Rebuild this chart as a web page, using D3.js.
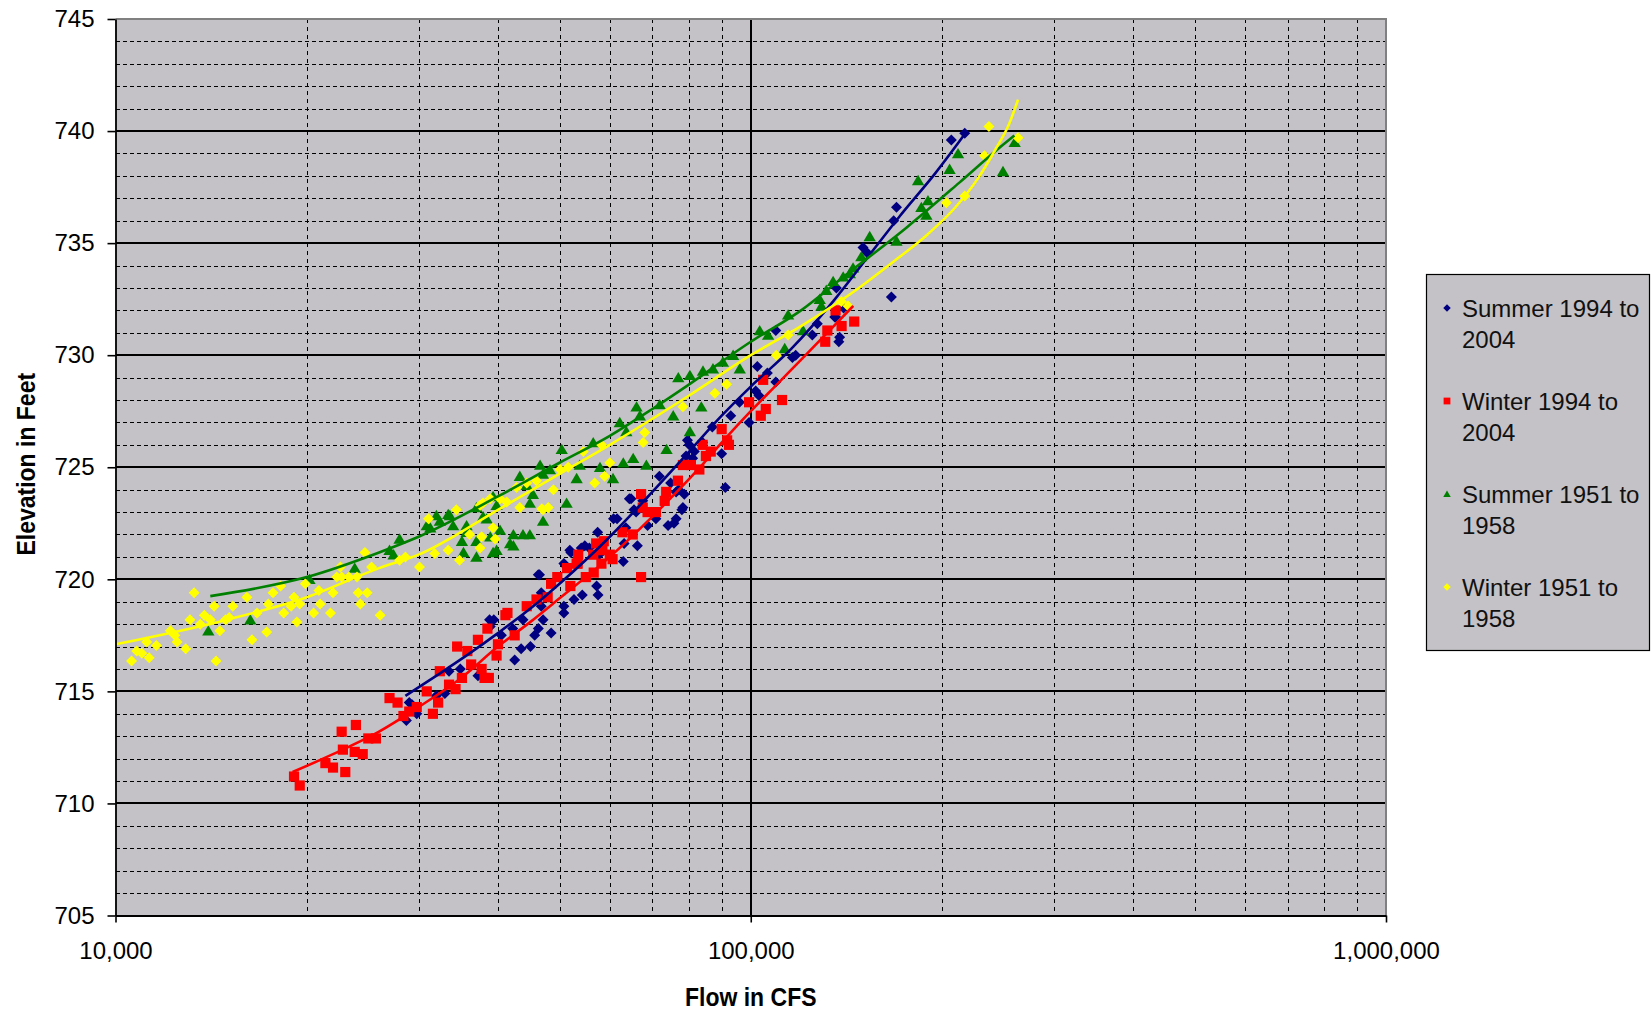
<!DOCTYPE html>
<html>
<head>
<meta charset="utf-8">
<title>Stage vs Flow</title>
<script src="https://d3js.org/d3.v7.min.js"></script>
<style>
  body { margin: 0; background: #fff; }
  text { font-family: "Liberation Sans", Arial, sans-serif; }
</style>
</head>
<body>
<div id="chart"></div>
<script>
// series names, as in the legend
const seriesNames = ["Summer 1994 to|2004", "Winter 1994 to|2004", "Summer 1951 to|1958", "Winter 1951 to|1958"];

// [flow cfs, elevation ft]
const summer9404 = [
  [29000,714.5],[29800,714.0],[28700,713.7],[29300,714.4],[32000,714.8],[33000,714.9],[33500,715.9],[34900,716.0],
  [37200,715.7],[38900,717.9],[39400,718.2],[40500,717.5],[42500,716.4],[43500,716.9],[45000,717.0],[45700,717.5],
  [46300,717.8],[47100,718.2],[46300,720.2],[46800,719.4],[50800,720.7],[50800,718.8],[50800,718.5],[52700,719.1],
  [54300,719.3],[57200,719.7],[57500,719.3],[63000,720.8],
  [51900,721.3],[54800,721.5],[57400,722.1],[60800,722.7],[63200,721.6],[63600,722.3],[64800,723.6],[66000,723.0],
  [67600,723.5],[68800,722.4],[70900,722.7],[71800,724.6],[74100,722.4],[76300,722.7],[76300,723.9],[78200,723.2],
  [78600,723.8],[79500,726.2],[79100,725.5],[81000,725.4],[84000,726.1],[87000,726.8],[90000,725.6],[91200,724.1],
  [93000,727.3],[96000,727.9],[99400,727.0],[101800,728.4],[103000,728.2],[102400,729.5],[106200,729.2],[109500,728.8],
  [116300,729.9],[117700,730.0],[125000,730.9],[127300,731.4],[136000,731.7],[137600,730.6],[140000,732.1],[109500,731.1],
  [57700,721.1],[169600,736.6],[167900,736.0],[150200,734.8],[152100,734.6],[166500,732.6],[136400,733.0],[135600,731.7],
  [138000,730.8],[206900,739.6],[217200,739.9],
  [46500,720.2],[51100,720.6],[52100,721.2],[54100,721.4],[55700,721.4],[61600,722.7],[64400,723.6],[65500,723.1],
  [66300,721.5],[74800,724.3],[77000,724.0],[75700,722.5],[77900,723.1],[80000,726.0],[81500,725.7],[48500,717.6],
  [46800,718.8],[43800,718.2],[38800,718.2],[42200,717.8]
];

const winter9404 = [
  [19100,711.2],[19500,710.8],[21400,711.8],[22000,711.6],[23000,711.4],[22700,713.2],[23900,713.5],[22800,712.4],
  [23800,712.3],[24500,712.2],[25000,712.9],[25700,712.9],[27000,714.7],[27800,714.5],[28400,713.9],[29000,714.1],
  [29800,714.3],[30900,715.0],[31600,714.0],[32200,714.5],[32400,715.9],[33500,715.3],[34300,715.1],[34500,717.0],
  [35100,715.6],[35800,716.8],[37200,717.3],[36300,716.2],[37700,716.0],[38100,715.6],[38700,715.6],[38500,717.8],
  [39800,716.6],[40000,717.1],[41400,718.5],[42500,717.5],[44400,718.8],[46000,719.1],[47900,719.2],[49600,720.1],
  [51400,720.5],[53400,720.7],[55000,720.1],[56600,720.3],[58200,720.7],[60600,720.9],[67200,720.1],[48500,719.8],
  [52000,719.7],[41100,718.4],
  [53200,720.7],[53500,721.1],[56500,721.1],[58400,721.3],[60000,721.1],[57100,721.6],[58700,721.7],[62800,722.1],
  [65200,722.0],[67200,723.8],[67600,723.2],[68800,723.0],[70900,723.0],[73200,723.5],[73600,723.9],[76800,724.4],
  [78200,725.1],[80500,725.1],[83000,724.9],[84000,726.0],[86500,725.7],[85000,725.5],[91800,726.2],[92400,726.0],
  [90000,726.7],[99400,727.9],[103700,727.3],[105600,727.6],[104600,728.9],[112000,728.0],[131000,730.6],[132000,731.1],
  [139000,731.3],[145500,731.5],[136000,732.0]
];

const summer5158 = [
  [14000,717.7],[16300,718.2],[20200,720.0],[23800,720.5],[27400,721.1],[31300,722.3],[32400,722.6],[33400,722.9],
  [34000,722.4],[35700,722.4],[37000,723.2],[37900,722.8],[38900,721.9],[40300,722.2],[39300,723.7],[42300,721.5],
  [43800,722.0],[41800,721.6],[39800,721.3],[37000,721.0],[47100,724.7],[45400,723.8],[47100,722.6],[44900,723.4],
  [43300,724.6],
  [27000,721.3],[32000,722.85],[37000,721.7],[39300,721.2],[42300,722.0],[44900,722.0],[39800,723.3],[44400,724.2],
  [50400,725.8],[51300,723.4],[53200,724.5],[53800,725.1],[56500,726.1],[57900,725.0],[60700,724.5],[63000,725.2],
  [65300,725.4],[66100,727.7],[68500,725.1],[63700,726.6],[62200,727.0],[66900,727.3],[71900,727.8],[73700,725.8],
  [75500,727.3],[76900,729.0],[80200,729.1],[80200,726.6],[83600,727.7],[84100,729.3],[87200,729.4],[90400,729.7],
  [93800,730.0],[96100,729.4],[103300,731.1],[106500,730.9],[113100,730.3],[114500,731.8],[120900,731.1],[128400,732.5],
  [131500,732.9],[46600,725.1],[48300,724.9],[38400,722.7],[35700,722.1],[35100,721.7],[35300,721.2],[33600,722.85],
  [30900,722.4],[28000,721.8],
  [153900,735.3],[169600,735.1],[183400,737.8],[190100,736.9],[185600,736.6],[189000,736.25],[205600,738.3],[212000,739.0],
  [249500,738.2],[260300,739.5],[134800,733.3],[143200,733.65],[144900,733.9],[129200,732.2],[139800,733.5],[149300,734.4]
];

const winter5158 = [
  [10600,716.35],[10800,716.8],[11000,716.7],[11300,716.5],[11200,717.2],[11600,717.05],[12200,717.7],[12400,717.5],
  [12500,717.2],[12900,716.9],[13100,718.2],[13300,719.4],[13600,718.0],[13800,718.4],[14100,718.2],[14300,718.8],
  [14400,716.35],[14600,717.7],[14900,718.2],[15100,718.3],[15300,718.8],[16100,719.2],[16400,717.3],[16700,718.5],
  [17300,717.65],[17400,718.9],[17700,719.4],[18200,719.7],[18400,718.5],[18900,718.8],[19300,718.1],[19500,718.9],
  [19900,719.8],[20500,718.5],[20900,719.5],[21800,718.5],[22000,719.4],[22300,720.1],[22600,720.55],[23300,720.1],
  [24000,720.1],[24300,718.9],[24100,719.4],[24900,719.4],[24700,721.2],[25300,720.55],[26100,718.4],[22700,720.1],
  [21000,718.9],[19100,719.2],[28000,720.85],[28600,721.0],[30100,720.55],[31100,722.7],[31800,721.15],[33400,721.3],
  [34800,720.85],[34400,723.1],[36100,722.0],[37500,721.4],[37700,721.9],[39600,721.8],[39300,722.3],[37900,723.4],
  [40300,723.6],[42800,724.1],[46000,724.4],[47100,723.1],[43300,723.2],[41300,723.45],
  [37500,723.3],[38900,723.6],[44400,724.3],[48900,724.0],[46900,723.15],[48000,723.2],[50100,724.9],[51600,725.0],
  [54500,725.7],[58200,726.0],[60000,725.2],[58900,724.6],[56800,724.3],[68100,726.55],[67700,726.1],[78200,727.7],
  [87800,728.3],[91600,728.7],[109700,730.0],[114500,730.9],
  [138900,732.4],[142300,732.2],[203200,736.8],[217200,737.1],[233400,738.9],[237100,740.2],[263500,739.7]
];

// trend lines
const trendSummer9404 = [[28600,714.8],[32200,715.75],[35900,716.65],[40000,717.6],[45700,718.85],[50000,719.8],
  [60000,721.9],[70000,723.9],[80000,725.7],[90000,727.3],[100000,728.6],[116000,730.3],[134800,732.4],
  [152100,734.3],[171600,736.2],[195000,738.1],[219000,740.0]];
const trendWinter9404 = [[19000,711.4],[22000,712.2],[25600,713.1],[30000,714.3],[35000,715.6],[40000,717.0],
  [45000,718.1],[50000,719.15],[60000,721.0],[70000,722.8],[82000,724.8],[92000,726.4],[100000,727.5],
  [110000,728.7],[122000,730.0],[133000,731.1],[145000,732.2]];
const trendSummer5158 = [[14100,719.25],[20000,720.1],[26000,721.2],[30000,721.9],[40000,723.7],[50000,725.2],
  [60000,726.4],[70000,727.6],[80000,728.7],[100000,730.6],[120000,732.0],[140000,733.5],[176000,735.7],
  [213000,737.7],[245000,739.2],[260000,739.8]];
const trendWinter5158 = [[10000,717.1],[15000,718.2],[20000,719.2],[26000,720.5],[30000,721.1],[40000,723.1],
  [50000,724.7],[60000,726.0],[80000,728.2],[100000,730.0],[120000,731.3],[148000,733.0],[170000,734.3],
  [190000,735.4],[210000,736.6],[228000,737.9],[243000,739.2],[255000,740.3],[263500,741.4]];

const colors = ["#000080", "#ff0000", "#008000", "#ffff00"];
const shapes = ["diamond", "square", "triangle", "diamond"];

const W = 1652, H = 1011;
const plot = {left: 115.5, right: 1386, top: 19, bottom: 915.5};

const svg = d3.select("#chart").append("svg")
    .attr("width", W).attr("height", H);

const x = d3.scaleLog().domain([1e4, 1e6]).range([plot.left, plot.right]);
const y = d3.scaleLinear().domain([705, 745]).range([plot.bottom, plot.top]);

// plot area
svg.append("rect")
    .attr("x", plot.left).attr("y", plot.top)
    .attr("width", plot.right - plot.left).attr("height", plot.bottom - plot.top)
    .attr("fill", "#c4c2c6");

// grid
const grid = svg.append("g").attr("shape-rendering", "crispEdges");
const minorY = d3.range(706, 745).filter(d => d % 5 !== 0);
const majorY = d3.range(710, 745, 5);
grid.selectAll(".gy").data(minorY).enter().append("line")
    .attr("x1", plot.left).attr("x2", plot.right)
    .attr("y1", d => Math.round(y(d)) + 0.5).attr("y2", d => Math.round(y(d)) + 0.5)
    .attr("stroke", "#000").attr("stroke-width", 1).attr("stroke-dasharray", "4,3");
const minorX = [];
[1e4, 1e5].forEach(b => { for (let k = 2; k <= 9; k++) minorX.push(k * b); });
grid.selectAll(".gx").data(minorX).enter().append("line")
    .attr("y1", plot.top).attr("y2", plot.bottom)
    .attr("x1", d => Math.round(x(d)) + 0.5).attr("x2", d => Math.round(x(d)) + 0.5)
    .attr("stroke", "#000").attr("stroke-width", 1).attr("stroke-dasharray", "4,4");
grid.selectAll(".gY").data(majorY).enter().append("line")
    .attr("x1", plot.left).attr("x2", plot.right)
    .attr("y1", d => Math.round(y(d))).attr("y2", d => Math.round(y(d)))
    .attr("stroke", "#000").attr("stroke-width", 2);
grid.append("line")
    .attr("y1", plot.top).attr("y2", plot.bottom)
    .attr("x1", Math.round(x(1e5))).attr("x2", Math.round(x(1e5)))
    .attr("stroke", "#000").attr("stroke-width", 2);

// gray frame on top and right
svg.append("path")
    .attr("d", `M${plot.left},${plot.top}H${plot.right}V${plot.bottom}`)
    .attr("fill", "none").attr("stroke", "#808080").attr("stroke-width", 2);

function marker(shape, r) {
  if (shape === "square") return `M${-r},${-r}H${r}V${r}H${-r}Z`;
  if (shape === "triangle") return `M0,${-r}L${r * 1.1},${r * 0.85}H${-r * 1.1}Z`;
  return `M0,${-r * 1.1}L${r * 1.1},0L0,${r * 1.1}L${-r * 1.1},0Z`;
}

const allSeries = [summer9404, winter9404, summer5158, winter5158];
const sizes = [5.0, 5.1, 5.6, 5.0];
allSeries.forEach((data, i) => {
  svg.append("g").selectAll("path").data(data).enter().append("path")
      .attr("transform", d => `translate(${x(d[0])},${y(d[1])})`)
      .attr("d", marker(shapes[i], sizes[i]))
      .attr("fill", colors[i]);
});

// trend lines
const line = d3.line().x(d => x(d[0])).y(d => y(d[1])).curve(d3.curveMonotoneX);
[trendSummer9404, trendWinter9404, trendSummer5158, trendWinter5158].forEach((t, i) => {
  svg.append("path").datum(t)
      .attr("d", line)
      .attr("fill", "none").attr("stroke", colors[i]).attr("stroke-width", 2.6);
});

// axes
const yAxis = d3.axisLeft(y).tickValues(d3.range(705, 746, 5)).tickSize(8).tickSizeOuter(0).tickPadding(13);
const gy = svg.append("g").attr("transform", `translate(${plot.left},0)`).call(yAxis);
const xAxis = d3.axisBottom(x).tickValues([1e4, 1e5, 1e6]).tickFormat(d3.format(",")).tickSize(7).tickSizeOuter(0).tickPadding(19);
const gx = svg.append("g").attr("transform", `translate(0,${plot.bottom})`).call(xAxis);
[gx, gy].forEach(g => {
  g.select(".domain").attr("stroke", "#000").attr("stroke-width", 1.8);
  g.selectAll(".tick line").attr("stroke", "#000").attr("stroke-width", 1.6);
  g.selectAll("text").attr("font-size", 24).attr("fill", "#000")
      .attr("font-family", "'Liberation Sans', Arial, sans-serif");
});

// axis titles
svg.append("text")
    .attr("transform", `translate(${(plot.left + plot.right) / 2},1006) scale(1,1.15)`)
    .attr("text-anchor", "middle").attr("font-size", 23).attr("font-weight", "bold")
    .text("Flow in CFS");
svg.append("text")
    .attr("transform", `translate(35,${(plot.top + plot.bottom) / 2 - 3}) rotate(-90) scale(1,1.15)`)
    .attr("text-anchor", "middle").attr("font-size", 23).attr("font-weight", "bold")
    .text("Elevation in Feet");

// legend
const leg = svg.append("g");
leg.append("rect")
    .attr("x", 1426.5).attr("y", 274.5).attr("width", 223).attr("height", 376)
    .attr("fill", "#c4c2c6").attr("stroke", "#000").attr("stroke-width", 1.2);
const legY = [308, 401, 494, 587];
seriesNames.forEach((name, i) => {
  const parts = name.split("|");
  leg.append("path")
      .attr("transform", `translate(1447,${legY[i]})`)
      .attr("d", marker(shapes[i], 3.4))
      .attr("fill", colors[i]);
  parts.forEach((p, j) => {
    leg.append("text")
        .attr("x", 1462).attr("y", legY[i] + j * 31)
        .attr("dy", "0.36em").attr("font-size", 24).attr("fill", "#111")
        .text(p);
  });
});
</script>
</body>
</html>
